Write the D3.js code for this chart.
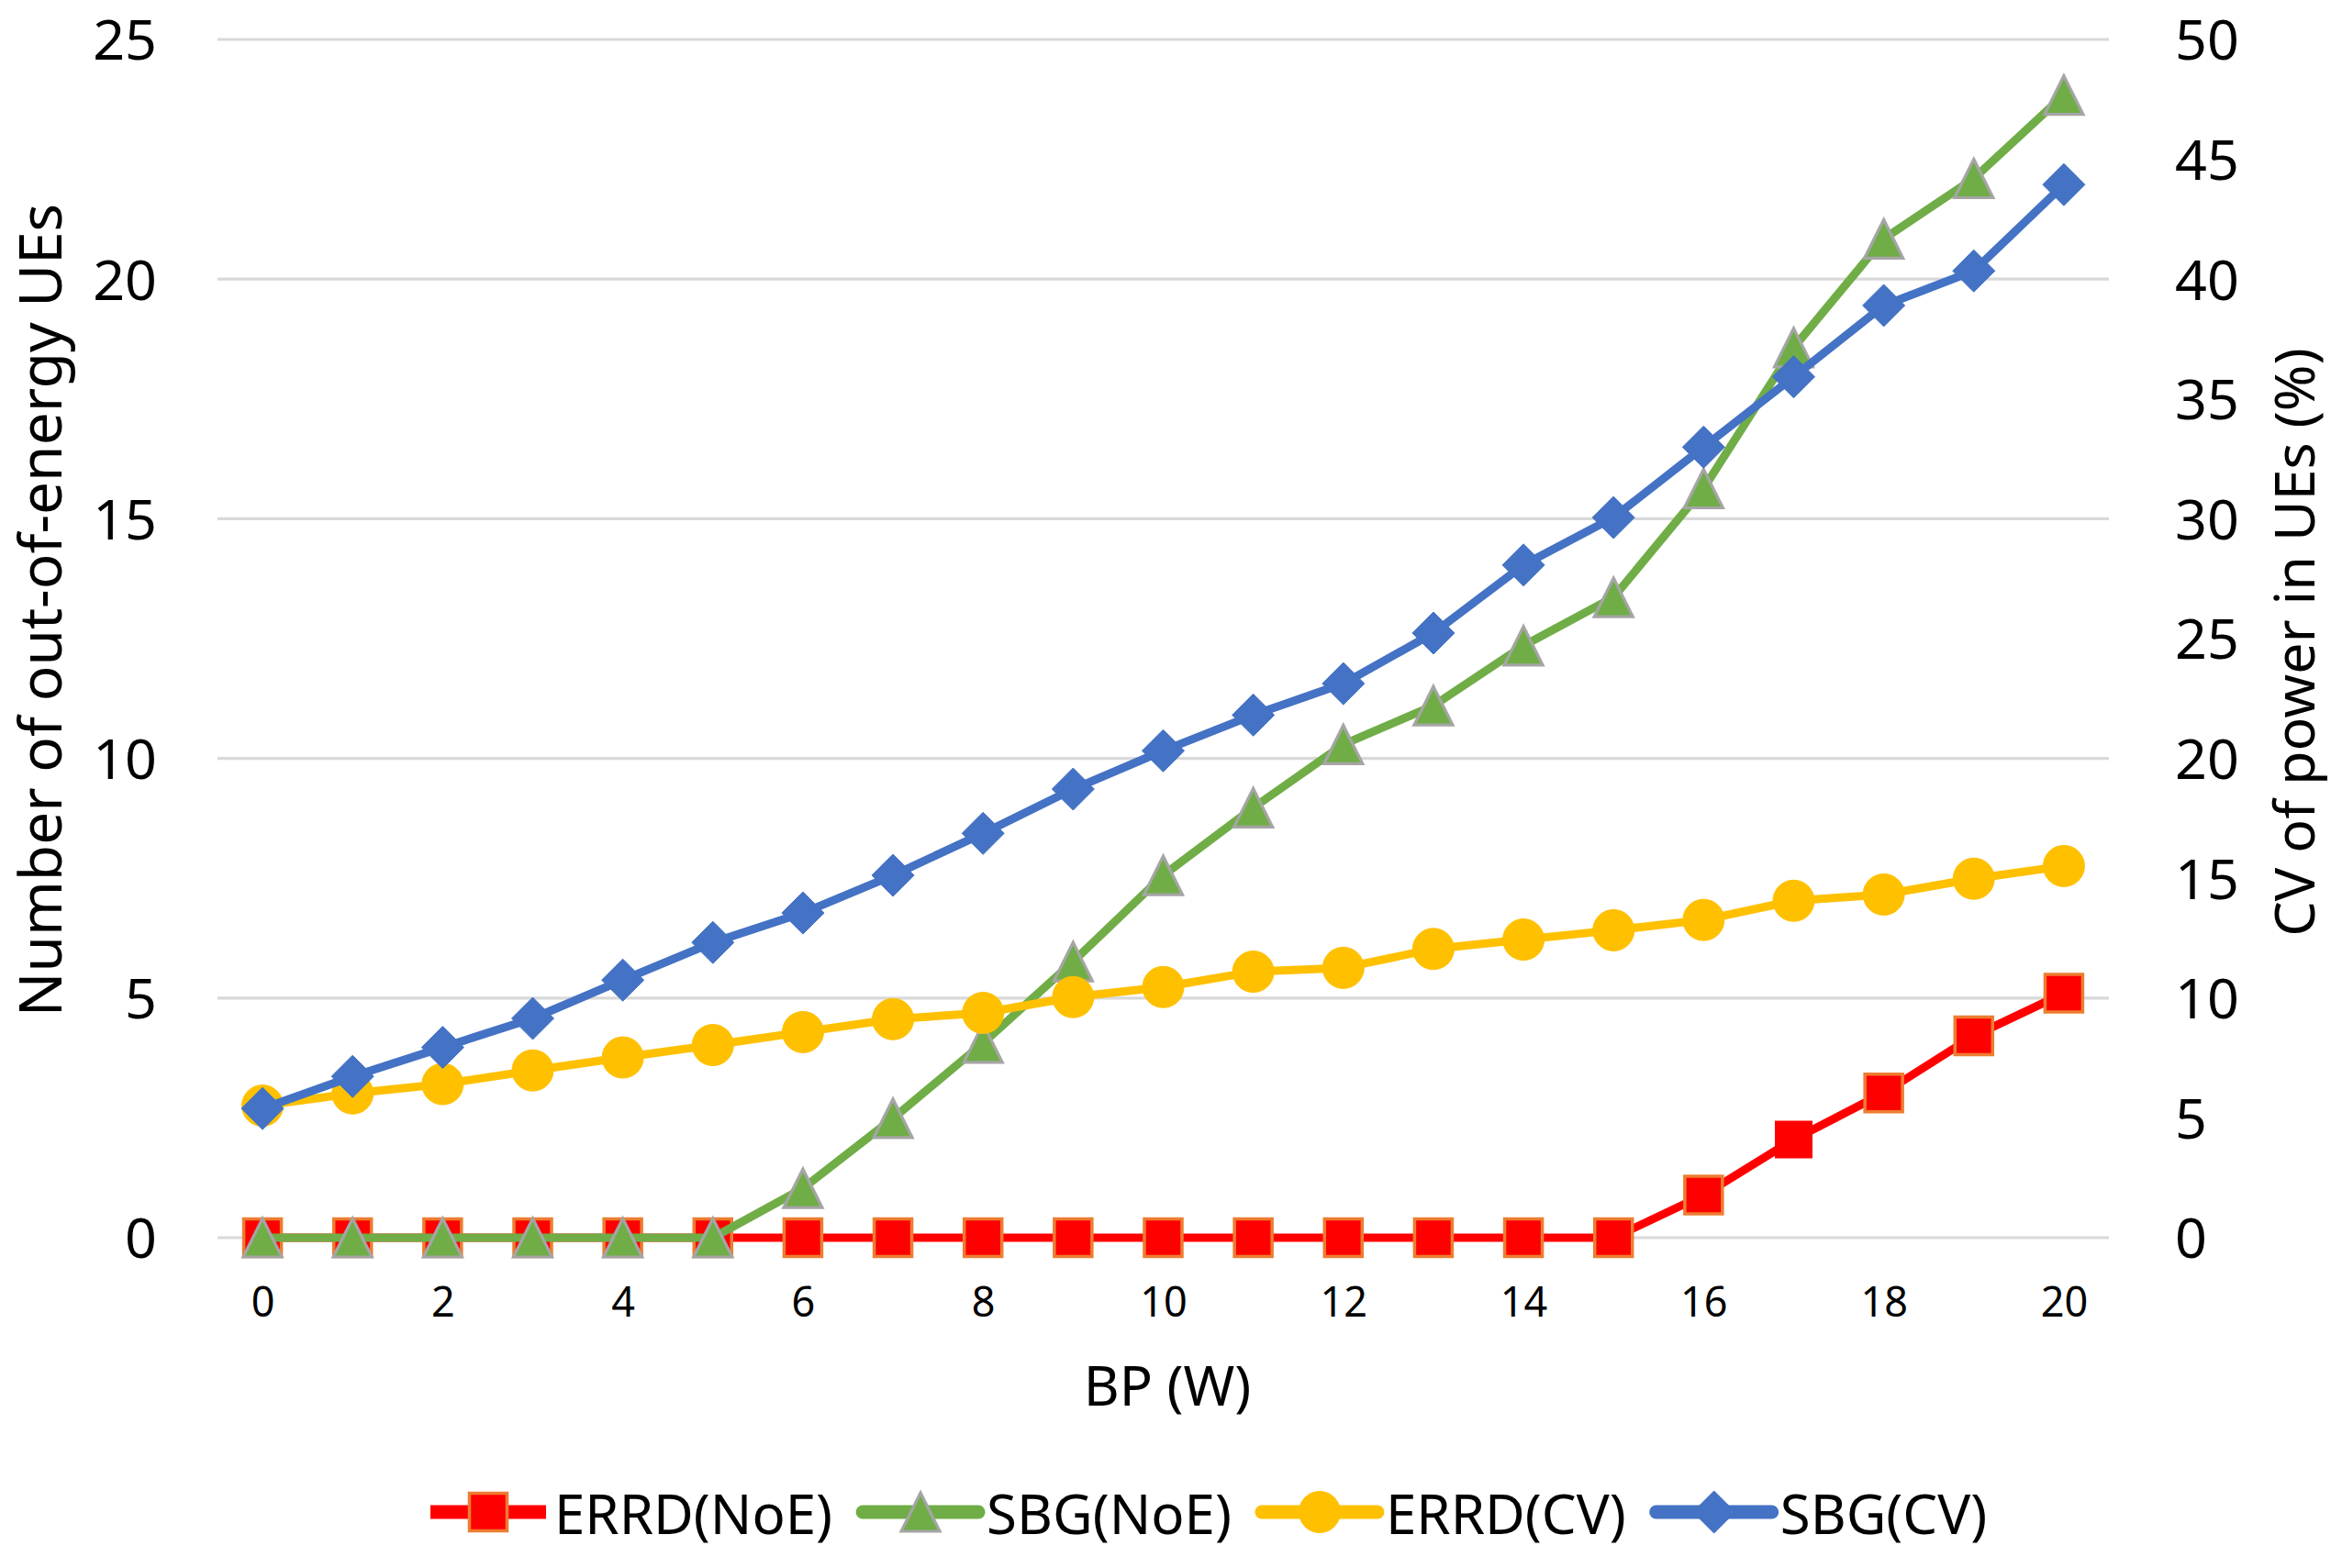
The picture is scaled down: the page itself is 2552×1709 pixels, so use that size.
<!DOCTYPE html>
<html>
<head>
<meta charset="utf-8">
<script src="https://cdn.jsdelivr.net/npm/d3@7"></script>
<style>
  html, body { margin: 0; padding: 0; background: #ffffff; }
  svg { display: block; }
  text { font-family: "Noto Sans", "Open Sans", sans-serif; fill: #000; }
</style>
</head>
<body>
<svg id="chart" width="2552" height="1709"></svg>
<script>
// ---------- data ----------
const bpValues = [0, 1, 2, 3, 4, 5, 6, 7, 8, 9, 10, 11, 12, 13, 14, 15, 16, 17, 18, 19, 20];
const xTickLabels = [0, 2, 4, 6, 8, 10, 12, 14, 16, 18, 20];
const leftTicks = [0, 5, 10, 15, 20, 25];
const rightTicks = [0, 5, 10, 15, 20, 25, 30, 35, 40, 45, 50];

const errdNoE = [0, 0, 0, 0, 0, 0, 0, 0, 0, 0, 0, 0, 0, 0, 0, 0, 0.89, 2.05, 3.02, 4.21, 5.1];
const sbgNoE  = [0, 0, 0, 0, 0, 0, 1.03, 2.49, 4.06, 5.76, 7.56, 8.97, 10.29, 11.1, 12.35, 13.36, 15.63, 18.57, 20.84, 22.1, 23.84];
const errdCV  = [5.51, 6.02, 6.41, 6.98, 7.52, 8.04, 8.58, 9.12, 9.38, 10.04, 10.46, 11.1, 11.26, 12.05, 12.44, 12.83, 13.26, 14.06, 14.32, 14.98, 15.51];
const sbgCV   = [5.39, 6.73, 7.94, 9.15, 10.75, 12.32, 13.55, 15.12, 16.87, 18.72, 20.32, 21.81, 23.12, 25.23, 28.07, 30.05, 32.99, 35.92, 38.9, 40.34, 43.94];

const seriesNames = ["ERRD(NoE)", "SBG(NoE)", "ERRD(CV)", "SBG(CV)"];
const xTitle = "BP (W)";
const yLeftTitle = "Number of out-of-energy UEs";
const yRightTitle = "CV of power in UEs (%)";

// ---------- layout ----------
const svg = d3.select("#chart");
const plot = { left: 237, right: 2298, top: 43, bottom: 1349 };

const x = d3.scalePoint().domain(bpValues).range([plot.left, plot.right]).padding(0.5);
const yL = d3.scaleLinear().domain([0, 25]).range([plot.bottom, plot.top]);
const yR = d3.scaleLinear().domain([0, 50]).range([plot.bottom, plot.top]);

// gridlines
svg.append("g").selectAll("line").data(leftTicks).join("line")
  .attr("x1", plot.left).attr("x2", plot.right)
  .attr("y1", d => yL(d)).attr("y2", d => yL(d))
  .attr("stroke", "#d9d9d9").attr("stroke-width", 3.2);

// left axis labels
const yAxisL = d3.axisLeft(yL).tickValues(leftTicks).tickSize(0).tickPadding(0);
const gL = svg.append("g").attr("transform", `translate(171,0)`).call(yAxisL);
gL.select(".domain").remove();
gL.selectAll("text").attr("font-size", 61).attr("font-family", "Noto Sans").attr("fill", "#000")
  .attr("dy", "0.36em").attr("x", 0).attr("text-anchor", "end");

// right axis labels
const yAxisR = d3.axisRight(yR).tickValues(rightTicks).tickSize(0).tickPadding(0);
const gR = svg.append("g").attr("transform", `translate(2370,0)`).call(yAxisR);
gR.select(".domain").remove();
gR.selectAll("text").attr("font-size", 61).attr("font-family", "Noto Sans").attr("fill", "#000")
  .attr("dy", "0.36em").attr("x", 0).attr("text-anchor", "start");

// x axis labels
const xAxis = d3.axisBottom(x).tickValues(xTickLabels).tickSize(0).tickPadding(0);
const gX = svg.append("g").attr("transform", `translate(0,1435)`).call(xAxis);
gX.select(".domain").remove();
gX.selectAll("text").attr("font-size", 45).attr("font-family", "Noto Sans").attr("fill", "#000")
  .attr("dy", 0).attr("y", 0);

// axis titles
svg.append("text").attr("x", 1272).attr("y", 1532).attr("text-anchor", "middle")
  .attr("font-size", 60).text(xTitle);
svg.append("text").attr("transform", "translate(67,665) rotate(-90)").attr("text-anchor", "middle")
  .attr("font-size", 64).text(yLeftTitle);
svg.append("text").attr("transform", "translate(2522,700) rotate(-90)").attr("text-anchor", "middle")
  .attr("font-size", 61).text(yRightTitle);

// ---------- marker shapes ----------
const markerDefs = {
  square: { path: "M-20.5,-20.5H20.5V20.5H-20.5Z", fill: "#FF0000", stroke: "#ED7D31", sw: 3.5 },
  triangle: { path: "M0,-21L21,21H-21Z", fill: "#70AD47", stroke: "#A5A5A5", sw: 3.2 },
  circle: { path: "M-22.5,0A22.5,22.5 0 1,0 22.5,0A22.5,22.5 0 1,0 -22.5,0Z", fill: "#FFC000", stroke: "#FFC000", sw: 1 },
  diamond: { path: "M0,-23L23,0L0,23L-23,0Z", fill: "#4472C4", stroke: "#4472C4", sw: 1 }
};

const series = [
  { name: seriesNames[0], values: errdNoE, y: yL, color: "#FF0000", marker: "square", cap: "butt" },
  { name: seriesNames[1], values: sbgNoE, y: yL, color: "#70AD47", marker: "triangle", cap: "round" },
  { name: seriesNames[2], values: errdCV, y: yR, color: "#FFC000", marker: "circle", cap: "round" },
  { name: seriesNames[3], values: sbgCV, y: yR, color: "#4472C4", marker: "diamond", cap: "round" }
];

series.forEach((s, si) => {
  const g = svg.append("g");
  const pts = bpValues.map((b, i) => [x(b), s.y(s.values[i])]);
  g.append("path").attr("d", d3.line()(pts))
    .attr("fill", "none").attr("stroke", s.color).attr("stroke-width", 9)
    .attr("stroke-linejoin", "round").attr("stroke-linecap", "round");
  const m = markerDefs[s.marker];
  g.selectAll("path.mk").data(bpValues).join("path").attr("class", "mk")
    .attr("transform", (b, i) => `translate(${x(b)},${s.y(s.values[i])})`)
    .attr("d", m.path).attr("fill", m.fill)
    .attr("stroke", (b) => (si === 0 && b === 17) ? "none" : m.stroke)
    .attr("stroke-width", m.sw);
});

// ---------- legend ----------
const legend = svg.append("g");
let lx = 469;
const ly = 1648;
series.forEach((s) => {
  const g = legend.append("g");
  g.append("line").attr("x1", lx).attr("x2", lx + 126).attr("y1", ly).attr("y2", ly)
    .attr("stroke", s.color).attr("stroke-width", 15).attr("stroke-linecap", s.cap === "butt" ? "butt" : "round");
  const m = markerDefs[s.marker];
  g.append("path").attr("transform", `translate(${lx + 63},${ly})`).attr("d", m.path)
    .attr("fill", m.fill).attr("stroke", m.stroke).attr("stroke-width", m.sw);
  const t = g.append("text").attr("x", lx + 135).attr("y", 1672).attr("font-size", 60).text(s.name);
  const w = t.node().getComputedTextLength();
  lx = lx + 135 + w + 33;
});
</script>
</body>
</html>
